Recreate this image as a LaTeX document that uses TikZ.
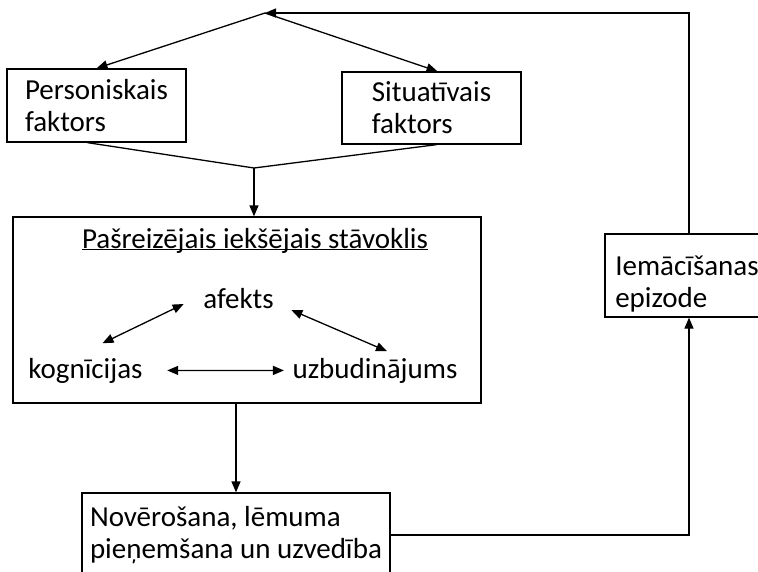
\documentclass[tikz,border=0pt]{standalone}
\usepackage{fontspec}
\setmainfont{Carlito}
\usetikzlibrary{arrows.meta,calc}

\begin{document}
\begin{tikzpicture}[x=1pt,y=-1pt,>={Triangle[length=11pt,width=9pt]},line width=1.3pt,
  box/.style={draw,align=left,inner sep=0pt,font=\fontsize{29pt}{32pt}\selectfont},
  txt/.style={anchor=base,inner sep=4pt,font=\fontsize{29pt}{32pt}\selectfont}]
\useasboundingbox (0,0) rectangle (758,571);
\clip (0,0) rectangle (758,571);
% factors
\coordinate (apex) at (265,13);
\node[box,minimum width=179pt,minimum height=73pt] (pers) at (96.5,105.5) {Personiskais\\faktors};
\node[box,minimum width=179pt,minimum height=72pt] (sit) at (431.5,108) {Situatīvais\\faktors};
\coordinate (join) at (254,168);
% current inner state
\node[draw,minimum width=468pt,minimum height=186pt] (state) at (247,310) {};
\node[txt] (title) at (255,248) {\underline{\smash{Pašreizējais iekšējais stāvoklis}}};
\node[txt] (afe) at (238.5,308) {afekts};
\node[txt] (kog) at (85.5,378) {kognīcijas};
\node[txt] (uzb) at (375,378) {uzbudinājums};
% behaviour and learning
\node[box,minimum width=308pt,minimum height=84pt] (nov) at (236,535) {Novērošana, lēmuma\\pieņemšana un uzvedība};
\node[box,minimum width=164pt,minimum height=83pt,text height=68pt] (iem) at (687,275.5) {Iemācīšanas\\epizode};

\draw[->] (apex) -- (pers.north);
\draw[->] (apex) -- ([xshift=6pt]sit.north);
\draw ([xshift=-9pt]pers.south) -- (join) -- ([xshift=5pt]sit.south);
\draw[->] (join) -- (join |- state.north);
\draw[<->] ([shift={(17,-10)}]kog.north) -- ([shift={(-15,6)}]afe.west);
\draw[<->] ([shift={(13,12)}]afe.east) -- ([shift={(12,-2)}]uzb.north);
\draw[<->] ([xshift=20pt]kog.east) -- ([xshift=-4pt]uzb.west);
\draw[->] (state.south -| nov.north) -- (nov.north);
\draw[->] (nov.east) -| ([xshift=2pt]iem.south);
\draw[->] ([xshift=2pt]iem.north) |- (apex);
\end{tikzpicture}
\end{document}
